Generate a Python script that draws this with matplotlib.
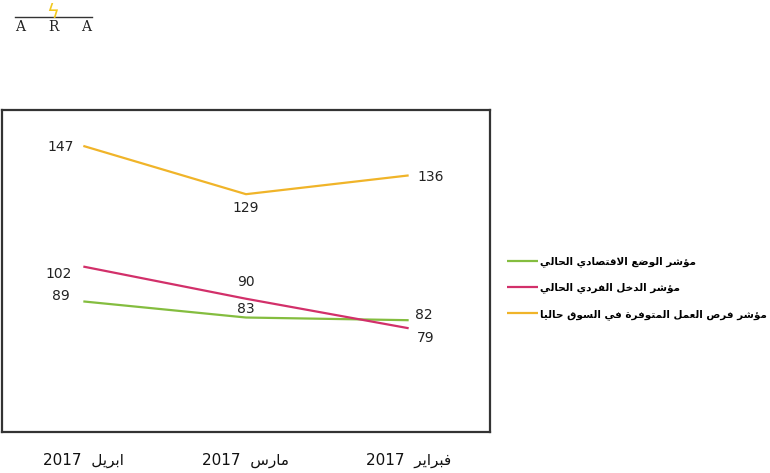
import matplotlib
matplotlib.use("Agg")
import matplotlib.pyplot as plt

# data (April, March, February 2017)
months = ["ابريل 2017", "مارس 2017", "فبراير 2017"]
series_names = [
    "مؤشر الوضع الاقتصادي الحالي",
    "مؤشر الدخل الفردي الحالي",
    "مؤشر فرص العمل المتوفرة في السوق حاليا",
]
economy = [89, 83, 82]
income = [102, 90, 79]
jobs = [147, 129, 136]

colors = ["#84bd3f", "#d2306a", "#f0b429"]

# label offsets in points (dx, dy) for each series / month
offsets = [
    [(-16, 4), (0, 6), (11, 4)],
    [(-18, -5), (0, 12), (12, -7)],
    [(-16, -1), (0, -10), (16, -1)],
]

# --- small Arabic shaper (matplotlib has no complex text layout) ---
# letter: (isolated, final, initial, medial); two entries -> joins right only
FORMS = {
    "ا": (0xFE8D, 0xFE8E), "ب": (0xFE8F, 0xFE90, 0xFE91, 0xFE92),
    "ة": (0xFE93, 0xFE94), "ت": (0xFE95, 0xFE96, 0xFE97, 0xFE98),
    "ح": (0xFEA1, 0xFEA2, 0xFEA3, 0xFEA4), "خ": (0xFEA5, 0xFEA6, 0xFEA7, 0xFEA8),
    "د": (0xFEA9, 0xFEAA), "ر": (0xFEAD, 0xFEAE),
    "س": (0xFEB1, 0xFEB2, 0xFEB3, 0xFEB4), "ش": (0xFEB5, 0xFEB6, 0xFEB7, 0xFEB8),
    "ص": (0xFEB9, 0xFEBA, 0xFEBB, 0xFEBC), "ض": (0xFEBD, 0xFEBE, 0xFEBF, 0xFEC0),
    "ع": (0xFEC9, 0xFECA, 0xFECB, 0xFECC), "ف": (0xFED1, 0xFED2, 0xFED3, 0xFED4),
    "ق": (0xFED5, 0xFED6, 0xFED7, 0xFED8), "ل": (0xFEDD, 0xFEDE, 0xFEDF, 0xFEE0),
    "م": (0xFEE1, 0xFEE2, 0xFEE3, 0xFEE4), "و": (0xFEED, 0xFEEE),
    "ي": (0xFEF1, 0xFEF2, 0xFEF3, 0xFEF4), "ؤ": (0xFE85, 0xFE86),
}


def shape_word(w):
    # merge lam + alef into ligature
    chars = []
    i = 0
    while i < len(w):
        if w[i] == "ل" and i + 1 < len(w) and w[i + 1] == "ا":
            chars.append("LA")
            i += 2
        else:
            chars.append(w[i])
            i += 1
    dual = lambda c: c in FORMS and len(FORMS[c]) == 4
    out = []
    for i, c in enumerate(chars):
        prev = chars[i - 1] if i > 0 else None
        nxt = chars[i + 1] if i + 1 < len(chars) else None
        jp = prev is not None and dual(prev)
        if c == "LA":
            out.append(chr(0xFEFC if jp else 0xFEFB))
            continue
        if c not in FORMS:
            out.append(c)
            continue
        jn = dual(c) and nxt is not None and (nxt in FORMS or nxt == "LA")
        f = FORMS[c]
        if jp and jn:
            out.append(chr(f[3]))
        elif jp:
            out.append(chr(f[1]))
        elif jn:
            out.append(chr(f[2]))
        else:
            out.append(chr(f[0]))
    return "".join(out)


def ar(s, sep=" "):
    parts = []
    for tok in s.split(" "):
        if any(ch in FORMS for ch in tok):
            parts.append(shape_word(tok)[::-1])
        else:
            parts.append(tok)
    return sep.join(parts[::-1])


fig = plt.figure(figsize=(7.7, 4.73), dpi=100)
ax = fig.add_axes([2 / 770, 41 / 473, 488 / 770, 322 / 473])

x = list(range(len(months)))
for vals, name, col, offs in zip([economy, income, jobs], series_names, colors, offsets):
    ax.plot(x, vals, color=col, lw=1.6, label=ar(name), solid_capstyle="butt")
    for xi, v, (dx, dy) in zip(x, vals, offs):
        ax.annotate(str(v), (xi, v), xytext=(dx, dy), textcoords="offset points",
                    ha="center", va="center", fontsize=10, color="#222222")

ax.set_xlim(-0.5, 2.5)
ax.set_ylim(40.3, 160.4)
ax.set_yticks([])
ax.set_xticks(x)
ax.set_xticklabels([ar(m, "  ") for m in months], fontsize=11, color="#111111")
ax.tick_params(axis="x", length=0, pad=15)
for s in ax.spines.values():
    s.set_color("#333333")
    s.set_linewidth(1.6)

# legend: shrink font until the longest entry fits inside the figure
fs = 8.5
renderer = fig.canvas.get_renderer()
while True:
    ls = 27.5 / (fs * 100 / 72) - 1.15
    leg = fig.legend(loc="center left", bbox_to_anchor=(507 / 770, 1 - 288 / 473),
                     frameon=False, prop={"size": fs, "weight": "bold"},
                     handlelength=2.6 * 8.5 / fs, handletextpad=0.2, labelspacing=ls,
                     borderaxespad=0, borderpad=0)
    if leg.get_window_extent(renderer).x1 <= 768 or fs < 6:
        break
    leg.remove()
    fs -= 0.25

# logo
for lx, letter in zip([20, 53, 86], "ARA"):
    fig.text(lx / 770, 1 - 27 / 473, letter, ha="center", va="center",
             fontsize=10, family="DejaVu Serif", color="#222222")
fig.add_artist(plt.Line2D([15 / 770, 92 / 770], [1 - 17 / 473, 1 - 17 / 473],
                          color="#333333", lw=1))
fig.text(53 / 770, 1 - 12 / 473, "ϟ", ha="center", va="center", fontsize=14,
         color="#f2c81e")

fig.savefig("out.png", dpi=100)
